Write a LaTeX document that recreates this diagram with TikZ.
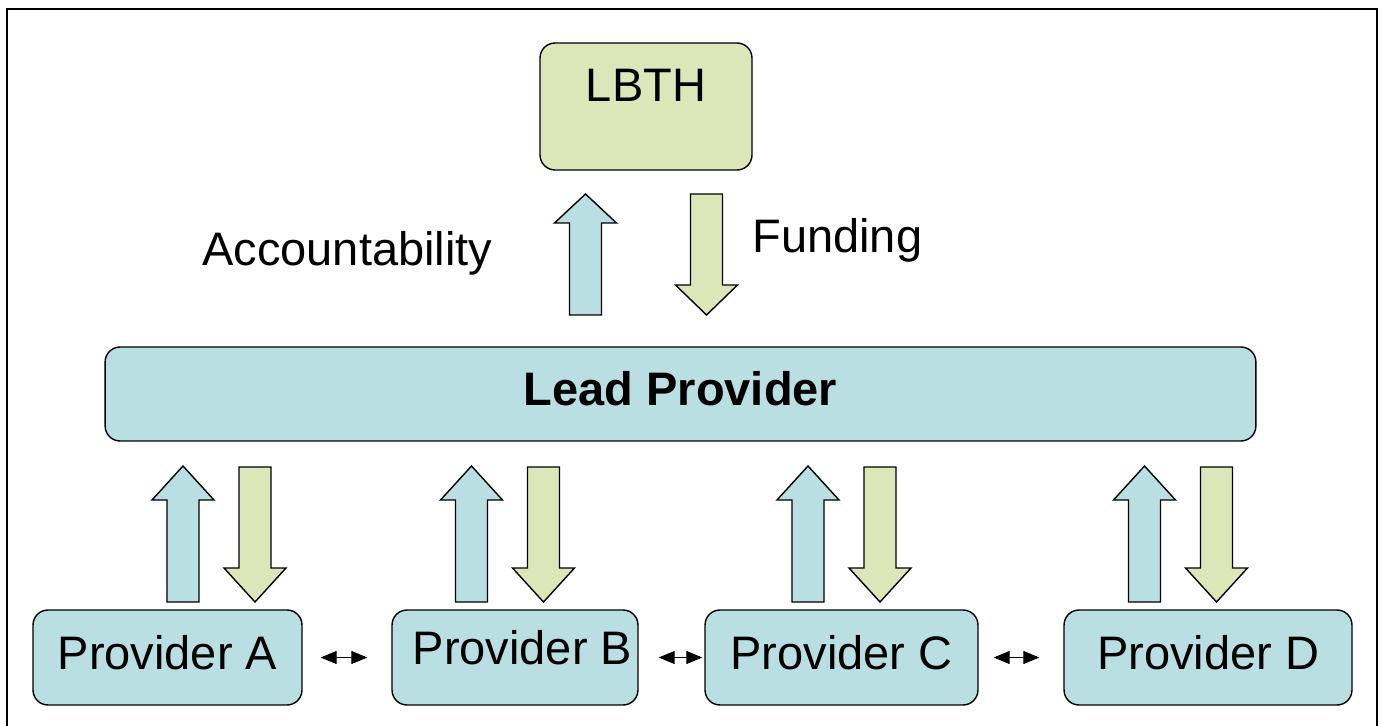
\documentclass[tikz,border=0pt]{standalone}
\usepackage{fontspec}
\setmainfont{Liberation Sans}
\usetikzlibrary{arrows.meta}
\definecolor{boxblue}{HTML}{B9DFE3}
\definecolor{boxgreen}{HTML}{DCE6B9}
\tikzset{
  box/.style={
    draw=black,
    line width=0.8pt,
    rounded corners=0.3cm,
    inner sep=0pt,
    font=\fontsize{26.75}{32}\selectfont,
    align=center
  },
  lbthbox/.style={box, fill=boxgreen, minimum width=4.24cm, text height=1.18cm, text depth=1.36cm},
  leadbox/.style={box, fill=boxblue, minimum width=23.02cm, text height=1.18cm, text depth=0.70cm, font=\fontsize{26.75}{32}\selectfont\bfseries},
  provbox/.style={box, fill=boxblue, text height=1.18cm, text depth=0.72cm},
  upblk/.style={draw=black, line width=0.8pt, line join=miter, fill=boxblue},
  downblk/.style={draw=black, line width=0.8pt, line join=miter, fill=boxgreen},
  lnk/.style={line width=0.6pt, {Triangle[length=0.32cm,width=0.26cm]}-{Triangle[length=0.32cm,width=0.26cm]}},
  lbl/.style={font=\fontsize{26.75}{32}\selectfont, inner sep=0pt, anchor=base west},
}
% style, x, tail y, head base y, tip y
\newcommand{\BlockArrow}[5]{%
  \draw[#1] ({#2-16},#3) -- ({#2-16},#4) -- ({#2-31},#4) -- ({#2},#5)
    -- ({#2+31},#4) -- ({#2+16},#4) -- ({#2+16},#3) -- cycle;
}

\begin{document}
\begin{tikzpicture}[x=0.02cm, y=-0.02cm]
  \useasboundingbox (0,0) rectangle (1382,726);
  \draw[line width=1.1pt] (7,726) -- (7,9) -- (1377,9) -- (1377,726);

  \node[lbthbox] (lbth) at (646,106.5) {LBTH};
  \node[leadbox] (lead) at (680.5,394) {Lead Provider};

  \BlockArrow{upblk}{585.5}{315}{223}{194}
  \BlockArrow{downblk}{706.5}{194}{285}{315}
  \node[lbl] (acc) at (202,265) {Accountability};
  \node[lbl] (fund) at (752,253) {Funding};

  \foreach \x in {183,471.5,808,1144.5} {
    \BlockArrow{upblk}{\x}{602}{500}{466}
    \BlockArrow{downblk}{\x+72}{467}{568}{602}
  }

  \node[provbox, minimum width=5.38cm] (provA) at (167.5,657.5) {Provider A};
  \node[provbox, minimum width=4.92cm, text height=1.08cm, text depth=0.82cm] (provB) at (515,657.5) {\hspace*{0.3cm}Provider B};
  \node[provbox, minimum width=5.46cm] (provC) at (841.5,657.5) {Provider C};
  \node[provbox, minimum width=5.76cm] (provD) at (1208,657.5) {Provider D};

  \draw[lnk, shorten <=0.36cm, shorten >=0.48cm] (provA.east) -- (provB.west);
  \draw[lnk, shorten <=0.40cm, shorten >=0.04cm] (provB.east) -- (provC.west);
  \draw[lnk, shorten <=0.30cm, shorten >=0.48cm] (provC.east) -- (provD.west);
\end{tikzpicture}
\end{document}
